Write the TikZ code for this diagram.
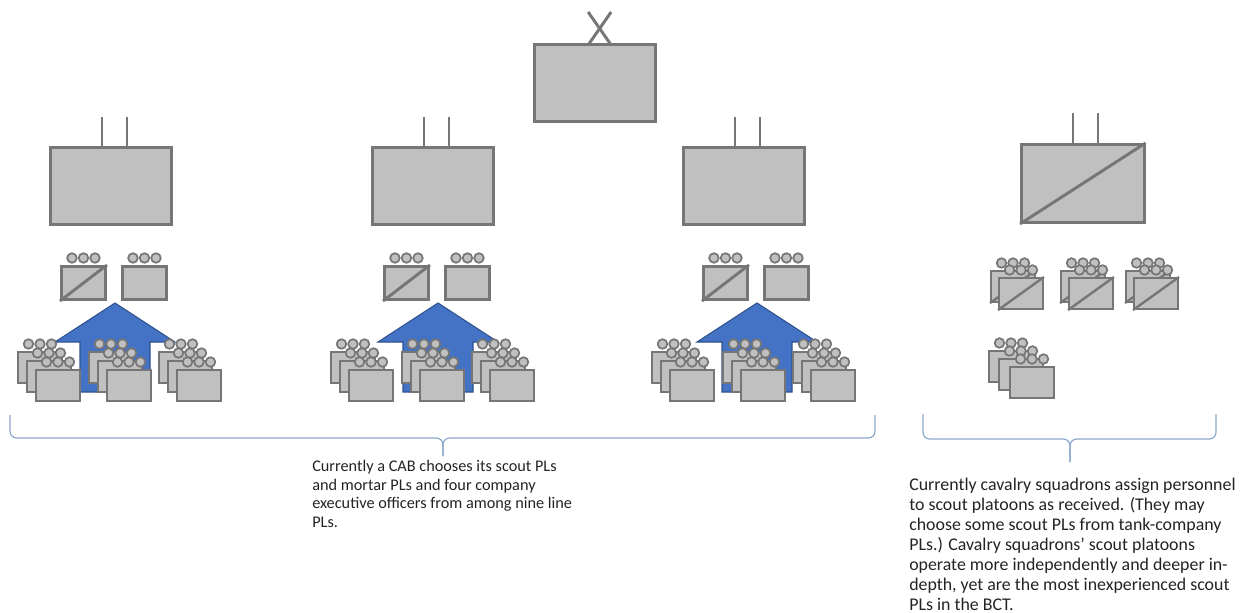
\documentclass[tikz,border=0pt]{standalone}
\usepackage{fontspec}
\usetikzlibrary{calc,positioning}
\newfontfamily\notefont{Carlito}

\definecolor{unitfill}{RGB}{192,192,192}
\definecolor{unitline}{RGB}{118,118,118}
\definecolor{arrowblue}{RGB}{68,114,196}
\definecolor{arrowedge}{RGB}{47,82,143}
\definecolor{bracecol}{RGB}{140,168,205}
\definecolor{notecol}{RGB}{35,35,35}

\tikzset{
  unit/.style={draw=unitline, fill=unitfill, line width=2.2pt, inner sep=0pt, anchor=north west},
  hqbox/.style={unit, minimum width=91pt, minimum height=57.5pt},
  cobox/.style={unit, minimum width=33pt, minimum height=24.8pt},
  plbox/.style={unit, line width=1.8pt, minimum width=32.7pt, minimum height=23pt},
  pldot/.style={circle, draw=unitline, fill=unitfill, line width=1.3pt, minimum size=7.2pt, inner sep=0pt},
  echelon/.style={draw=unitline, line width=2.2pt},
  sweep/.style={fill=arrowblue, draw=arrowedge, line width=0.8pt},
  brace/.style={draw=bracecol, line width=0.9pt, rounded corners=5pt},
  note/.style={align=left, anchor=north west, inner sep=0pt, text=notecol},
}

\newcommand{\ooo}[1]{%
  \foreach \d in {1,2,3}
    \node[pldot] (#1d\d) at ($(#1.north)+(\d*11.5-23,-7)$) {};}
\newcommand{\plt}[3]{\node[plbox] (#1) at ({#2},{#3}) {}; \ooo{#1}}
\newcommand{\pltd}[3]{\plt{#1}{#2}{#3} \draw[echelon, line width=1.8pt] (#1.south west) -- (#1.north east);}

\begin{document}
\begin{tikzpicture}[x=0.75pt, y=-0.75pt]
  \useasboundingbox (0,0) rectangle (1256,613);

  \node[hqbox] (bde) at (533,43) {};
  \draw[echelon] ($(bde.north)+(-7,2)$) -- ($(bde.north)+(16,-31)$);
  \draw[echelon] ($(bde.north)+(16,2)$) -- ($(bde.north)+(-7,-31)$);

  \foreach \g/\bx/\sx/\so in {1/49/60/35, 2/371/383/348, 3/682/702/669}{
    \node[hqbox] (bn\g) at (\bx,146) {};
    \draw[echelon] ($(bn\g.north west)+(53,2)$) -- ++(0,-31);
    \draw[echelon] ($(bn\g.north west)+(78,2)$) -- ++(0,-31);
    \node[cobox] (sct\g) at (\sx,265) {};
    \draw[echelon] (sct\g.south west) -- (sct\g.north east);
    \ooo{sct\g}
    \node[cobox] (mtr\g) at ({\sx+61},265) {};
    \ooo{mtr\g}
    \draw[sweep] ({\sx+55},303) -- ++(60,39) -- ++(-25,0) -- ++(0,50) -- ++(-70,0)
      -- ++(0,-50) -- ++(-25,0) -- cycle;
    \foreach \s/\o in {1/0, 2/71, 3/141}{
      \plt{pl\g\s-c}{\so+\o-18}{351}
      \plt{pl\g\s-b}{\so+\o-9}{360}
      \plt{pl\g\s-a}{\so+\o}{369}
    }
  }

  \node[hqbox, minimum width=92pt, minimum height=58.5pt] (sqdn) at (1020,143) {};
  \draw[echelon] ($(sqdn.north west)+(53,2)$) -- ++(0,-32);
  \draw[echelon] ($(sqdn.north west)+(78,2)$) -- ++(0,-32);
  \draw[echelon] (sqdn.south west) -- (sqdn.north east);
  \foreach \t/\tx in {1/998, 2/1068, 3/1133}{
    \pltd{trp\t-b}{\tx-8}{270}
    \pltd{trp\t-a}{\tx}{277}
  }
  \plt{trp4-c}{988}{350}
  \plt{trp4-b}{998}{358}
  \plt{trp4-a}{1009}{366}

  \coordinate (lbl) at (10,415);
  \coordinate (lbr) at (875,415);
  \coordinate (lbm) at (443,438);
  \coordinate (lbt) at (443,456);
  \draw[brace] (lbl) |- (lbm) -- (lbt);
  \draw[brace] (lbr) |- (lbm) -- (lbt);

  \coordinate (rbl) at (923,414);
  \coordinate (rbr) at (1216,414);
  \coordinate (rbm) at (1070,439);
  \coordinate (rbt) at (1070,462);
  \draw[brace] (rbl) |- (rbm) -- (rbt);
  \draw[brace] (rbr) |- (rbm) -- (rbt);

  \node[note, font=\notefont\fontsize{12.2}{14}\selectfont] (cabnote) at (312,460)
    {Currently a CAB chooses its scout PLs\\and mortar PLs and four company\\executive officers from among nine line\\PLs.};
  \node[note, font=\notefont\fontsize{13.4}{15}\selectfont] (cavnote) at (909,478)
    {Currently cavalry squadrons assign personnel\\to scout platoons as received. (They may\\choose some scout PLs from tank-company\\PLs.) Cavalry squadrons’ scout platoons\\operate more independently and deeper in-\\depth, yet are the most inexperienced scout\\PLs in the BCT.};
\end{tikzpicture}
\end{document}
